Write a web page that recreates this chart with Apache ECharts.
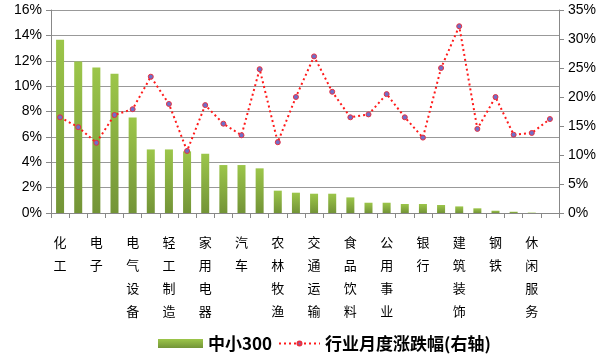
<!DOCTYPE html>
<html><head><meta charset="utf-8">
<script src="https://cdn.jsdelivr.net/npm/echarts@6/dist/echarts.min.js"></script>
<style>html,body{margin:0;padding:0;background:#fff}#c{width:612px;height:357px}</style>
</head><body><div id="c"></div>
<script>
const categories = ['化工','计算机','电子','传媒','电气设备','通信','轻工制造','医药生物','家用电器','机械设备','汽车','纺织服装','农林牧渔','国防军工','交通运输','商业贸易','食品饮料','建筑材料','公用事业','房地产','银行','有色金属','建筑装饰','非银金融','钢铁','采掘','休闲服务','综合'];
const barValues = [13.65,11.94,11.47,10.97,7.53,5.01,5.01,4.86,4.67,3.78,3.78,3.52,1.76,1.60,1.52,1.52,1.23,0.81,0.81,0.71,0.71,0.63,0.52,0.37,0.18,0.10,0.03,0];
const lineValues = [16.5,14.8,12.1,16.9,17.9,23.5,18.8,10.7,18.6,15.4,13.4,24.8,12.2,20.0,27.0,20.9,16.5,17.0,20.5,16.5,13.0,25.0,32.2,14.5,20.0,13.5,13.8,16.2];
const leftTicks = {min:0,max:16,interval:2};
const rightTicks = {min:0,max:35,interval:5};

const chart = echarts.init(document.getElementById('c'));
const axisFont = {fontFamily:'Liberation Sans, Arial, sans-serif', fontSize:14, color:'#000'};
const legendText = {fontFamily:'Noto Sans CJK SC', fontSize:17, fontWeight:'bold', color:'#000'};
chart.setOption({
  animation:false,
  legend:[
    {left:153, top:330, itemGap:5, itemWidth:45, itemHeight:9,
     textStyle:legendText, data:[{name:'中小300', icon:'rect'}]},
    {left:273, top:330, itemWidth:41, itemHeight:5, itemGap:6,
     textStyle:legendText, data:[{name:'行业月度涨跌幅(右轴)'}]}
  ],
  grid:{left:51, right:53, top:10, bottom:144, containLabel:false},
  xAxis:{
    type:'category', data:categories, boundaryGap:true,
    axisLine:{lineStyle:{color:'#888'}},
    axisTick:{show:true, interval:0, length:5, lineStyle:{color:'#888'}},
    axisLabel:{
      interval:1, margin:18, lineHeight:23,
      fontFamily:'Noto Sans CJK SC', fontSize:13, color:'#000',
      formatter:v=>v.split('').join('\n')
    }
  },
  yAxis:[
    {type:'value', min:leftTicks.min, max:leftTicks.max, interval:leftTicks.interval,
     axisLine:{show:true, lineStyle:{color:'#888'}},
     axisTick:{show:true, length:5, lineStyle:{color:'#888'}},
     splitLine:{show:true, lineStyle:{color:'#999', width:1}},
     axisLabel:Object.assign({formatter:v=>v+'%', margin:9}, axisFont)},
    {type:'value', min:rightTicks.min, max:rightTicks.max, interval:rightTicks.interval,
     position:'right',
     axisLine:{show:true, lineStyle:{color:'#888'}},
     axisTick:{show:true, length:5, lineStyle:{color:'#888'}},
     splitLine:{show:false},
     axisLabel:Object.assign({formatter:v=>v+'%', margin:9}, axisFont)}
  ],
  series:[
    {name:'中小300', type:'bar', yAxisIndex:0, data:barValues, barWidth:8,
     itemStyle:{color:new echarts.graphic.LinearGradient(0,0,0,1,[
       {offset:0,color:'#9cc64a'},{offset:1,color:'#739437'}])}},
    {name:'行业月度涨跌幅(右轴)', type:'line', yAxisIndex:1, data:lineValues,
     symbol:'circle', symbolSize:5,
     lineStyle:{color:'#ff1a1a', width:2, type:[2,3]},
     itemStyle:{color:'#6f6fc8', borderColor:'#e83040', borderWidth:1}}
  ]
});
</script></body></html>
